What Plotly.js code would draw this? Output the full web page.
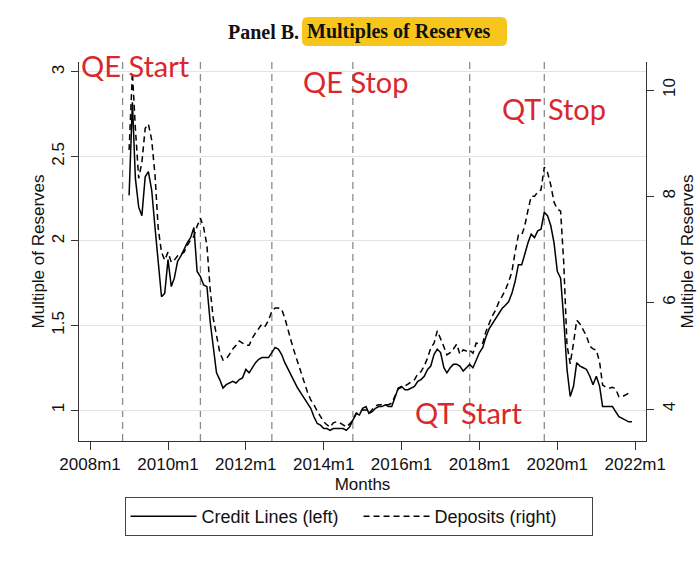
<!DOCTYPE html>
<html>
<head>
<meta charset="utf-8">
<script src="https://cdn.plot.ly/plotly-3.0.1.min.js"></script>
<style>html,body{margin:0;padding:0;background:#fff;}#chart{width:697px;height:562px;}</style>
</head>
<body>
<div id="chart"></div>
<script>
// First month of the series
const startYear = 2009;
const startMonth = 1;

// Credit lines multiple of reserves (left axis), monthly from 2009m1 to 2021m12
const creditLines = [
  2.27, 2.82, 2.37, 2.20, 2.15, 2.38, 2.41, 2.30, 2.08, 1.87, 1.67, 1.69,
  1.89, 1.73, 1.78, 1.88, 1.91, 1.95, 1.99, 2.02, 2.08, 1.82, 1.79, 1.74,
  1.73, 1.52, 1.36, 1.22, 1.18, 1.13, 1.15, 1.16, 1.17, 1.16, 1.18, 1.19,
  1.24, 1.22, 1.25, 1.28, 1.30, 1.31, 1.31, 1.31, 1.34, 1.37, 1.36, 1.33,
  1.28, 1.24, 1.20, 1.17, 1.13, 1.10, 1.07, 1.04, 1.01, 0.96, 0.92, 0.91,
  0.89, 0.89, 0.88, 0.89, 0.89, 0.89, 0.89, 0.88, 0.90, 0.94, 0.98, 0.97,
  1.01, 1.02, 0.98, 0.99, 1.01, 1.02, 1.02, 1.03, 1.02, 1.02, 1.07, 1.13,
  1.14, 1.12, 1.12, 1.13, 1.14, 1.17, 1.18, 1.20, 1.24, 1.26, 1.33, 1.36,
  1.34, 1.25, 1.22, 1.25, 1.27, 1.27, 1.26, 1.23, 1.25, 1.27, 1.25, 1.30,
  1.34, 1.37, 1.43, 1.48, 1.51, 1.54, 1.57, 1.60, 1.62, 1.64, 1.69, 1.76,
  1.86, 1.86, 1.92, 1.99, 2.04, 2.02, 2.06, 2.07, 2.17, 2.15, 2.09, 1.99,
  1.82, 1.78, 1.54, 1.24, 1.08, 1.14, 1.28, 1.26, 1.25, 1.24, 1.20, 1.15,
  1.20, 1.14, 1.02, 1.02, 1.02, 1.02, 0.99, 0.96, 0.95, 0.94, 0.93, 0.93
];

// Deposits multiple of reserves (right axis), monthly from 2009m1 to 2021m12
const deposits = [
  8.87, 10.33, 9.28, 8.34, 8.64, 9.28, 9.36, 9.06, 8.40, 7.40, 6.95, 6.80,
  6.95, 6.76, 6.80, 6.88, 6.91, 6.95, 7.08, 7.18, 7.25, 7.44, 7.59, 7.42,
  7.08, 6.24, 5.71, 5.41, 5.07, 4.92, 4.94, 5.03, 5.13, 5.20, 5.28, 5.24,
  5.20, 5.20, 5.33, 5.43, 5.52, 5.60, 5.56, 5.67, 5.84, 5.90, 5.90, 5.88,
  5.71, 5.47, 5.28, 5.07, 4.88, 4.70, 4.47, 4.32, 4.17, 4.08, 3.96, 3.87,
  3.76, 3.70, 3.66, 3.74, 3.76, 3.74, 3.70, 3.66, 3.72, 3.79, 3.91, 3.96,
  3.98, 3.98, 3.92, 4.00, 4.06, 4.08, 4.08, 4.08, 4.08, 4.11, 4.24, 4.38,
  4.41, 4.43, 4.47, 4.51, 4.55, 4.66, 4.70, 4.81, 4.96, 5.15, 5.24, 5.47,
  5.30, 5.17, 5.02, 5.06, 5.13, 5.22, 5.03, 5.11, 5.09, 5.11, 5.05, 5.24,
  5.22, 5.24, 5.45, 5.62, 5.75, 5.86, 6.01, 6.12, 6.24, 6.39, 6.58, 6.95,
  7.27, 7.27, 7.44, 7.74, 8.00, 8.00, 8.08, 8.12, 8.55, 8.45, 8.21, 7.89,
  7.76, 7.72, 6.76, 5.20, 4.85, 5.24, 5.67, 5.60, 5.48, 5.37, 5.18, 5.13,
  5.11, 4.88, 4.45, 4.41, 4.39, 4.41, 4.38, 4.23, 4.23, 4.26, 4.30, 4.30
];

// Policy event dates (vertical reference lines) and labelled events
const eventDates = ['2008-11-01', '2010-11-01', '2012-09-01', '2014-10-01', '2017-10-01', '2019-09-01'];
const eventLabels = ['QE Start', 'QE Stop', 'QT Start', 'QT Stop'];

// Axis ticks
const xTickVals = ['2008-01-01','2010-01-01','2012-01-01','2014-01-01','2016-01-01','2018-01-01','2020-01-01','2022-01-01'];
const xTickText = ['2008m1','2010m1','2012m1','2014m1','2016m1','2018m1','2020m1','2022m1'];
const leftTicks = [1, 1.5, 2, 2.5, 3];
const leftTickText = ['1', '1.5', '2', '2.5', '3'];
const rightTicks = [4, 6, 8, 10];
const rightTickText = ['4', '6', '8', '10'];

const seriesNames = ['Credit Lines (left)', 'Deposits (right)'];

// Month dates for the series
const months = [];
for (let i = 0; i < creditLines.length; i++) {
  const t = (startMonth - 1) + i;
  const y = startYear + Math.floor(t / 12);
  const m = (t % 12) + 1;
  months.push(y + '-' + String(m).padStart(2, '0') + '-01');
}

const traces = [
  {x: months, y: creditLines, type: 'scatter', mode: 'lines', name: seriesNames[0],
   line: {color: '#000', width: 1.5}, yaxis: 'y'},
  {x: months, y: deposits, type: 'scatter', mode: 'lines', name: seriesNames[1],
   line: {color: '#000', width: 1.5, dash: '6px,4px'}, yaxis: 'y2'}
];

// plot-area geometry helpers (pixels -> paper)
const L = 79, R = 646, T = 62, B = 441;
const px = v => (v - L) / (R - L);
const py = v => (B - v) / (B - T);

const shapes = eventDates.map(d => ({
  type: 'line', xref: 'x', yref: 'paper', x0: d, x1: d, y0: 0, y1: 1,
  line: {color: '#8c8c8c', width: 1.3, dash: '7px,5px'}, layer: 'below'
}));

// rounded yellow highlight behind title
(function() {
  const x0 = px(302), x1 = px(507), y0 = py(46), y1 = py(17);
  const dx = 6 / (R - L), dy = 6 / (B - T);
  const path = `M${x0+dx},${y0} L${x1-dx},${y0} Q${x1},${y0} ${x1},${y0+dy} L${x1},${y1-dy} Q${x1},${y1} ${x1-dx},${y1} L${x0+dx},${y1} Q${x0},${y1} ${x0},${y1-dy} L${x0},${y0+dy} Q${x0},${y0} ${x0+dx},${y0} Z`;
  shapes.push({type: 'path', xref: 'paper', yref: 'paper', path: path,
    fillcolor: '#f7c51b', line: {width: 0}, layer: 'below'});
})();

const redFont = {family: 'Lato, "Open Sans", sans-serif', size: 29, color: '#d9272e'};
const annotations = [
  {text: '<b>Panel B.</b>', xref: 'paper', yref: 'paper', x: px(301), y: py(32),
   xanchor: 'right', yanchor: 'middle', showarrow: false,
   font: {family: '"Liberation Serif", "Times New Roman", serif', size: 20, color: '#111'}},
  {text: '<b>Multiples of Reserves</b>', xref: 'paper', yref: 'paper', x: px(305), y: py(32),
   xanchor: 'left', yanchor: 'middle', showarrow: false,
   font: {family: '"Liberation Serif", "Times New Roman", serif', size: 20, color: '#111'}},
  {text: eventLabels[0], xref: 'paper', yref: 'paper', x: px(79), y: py(65), xanchor: 'left', yanchor: 'middle', showarrow: false, font: redFont},
  {text: eventLabels[1], xref: 'paper', yref: 'paper', x: px(301), y: py(82), xanchor: 'left', yanchor: 'middle', showarrow: false, font: redFont},
  {text: eventLabels[2], xref: 'paper', yref: 'paper', x: px(413), y: py(412), xanchor: 'left', yanchor: 'middle', showarrow: false, font: redFont},
  {text: eventLabels[3], xref: 'paper', yref: 'paper', x: px(500), y: py(108), xanchor: 'left', yanchor: 'middle', showarrow: false, font: redFont}
];

const axisCommon = {
  showline: true, linecolor: '#333', linewidth: 1, ticks: 'outside', ticklen: 7,
  tickcolor: '#333', tickwidth: 1, zeroline: false, automargin: false,
  tickfont: {size: 17, color: '#111'}
};

const layout = {
  width: 697, height: 562,
  margin: {l: L, r: 697 - R, t: T, b: 562 - B, pad: 0},
  paper_bgcolor: '#fff', plot_bgcolor: '#fff',
  font: {family: '"Liberation Sans", Arial, sans-serif', size: 17, color: '#111'},
  showlegend: true,
  xaxis: Object.assign({}, axisCommon, {
    type: 'date', range: ['2007-09-19', '2022-04-12'], ticklen: 8,
    tickmode: 'array', tickvals: xTickVals, ticktext: xTickText,
    showgrid: false, title: {text: 'Months', standoff: 4, font: {size: 17, color: '#111'}}
  }),
  yaxis: Object.assign({}, axisCommon, {
    range: [0.8166, 3.059], tickmode: 'array', tickvals: leftTicks, ticktext: leftTickText,
    tickangle: -90, showgrid: true, gridcolor: '#e3e3e3', gridwidth: 1,
    title: {text: 'Multiple of Reserves', standoff: 0, font: {size: 17, color: '#111'}}
  }),
  yaxis2: Object.assign({}, axisCommon, {
    overlaying: 'y', side: 'right', range: [3.398, 10.527],
    tickmode: 'array', tickvals: rightTicks, ticktext: rightTickText,
    tickangle: -90, showgrid: false, ticklabelstandoff: 1,
    title: {text: 'Multiple of Reserves', standoff: 2, font: {size: 17, color: '#111'}}
  }),
  legend: {
    orientation: 'h', x: 0.493, xanchor: 'center', y: py(497), yanchor: 'top',
    bordercolor: '#444', borderwidth: 1, bgcolor: '#fff',
    font: {size: 18, color: '#111'}, itemwidth: 66, entrywidth: 152, entrywidthmode: 'pixels',
    itemclick: false, itemdoubleclick: false
  },
  shapes: shapes,
  annotations: annotations
};

Plotly.newPlot('chart', traces, layout, {displayModeBar: false, staticPlot: true});
</script>
</body>
</html>
